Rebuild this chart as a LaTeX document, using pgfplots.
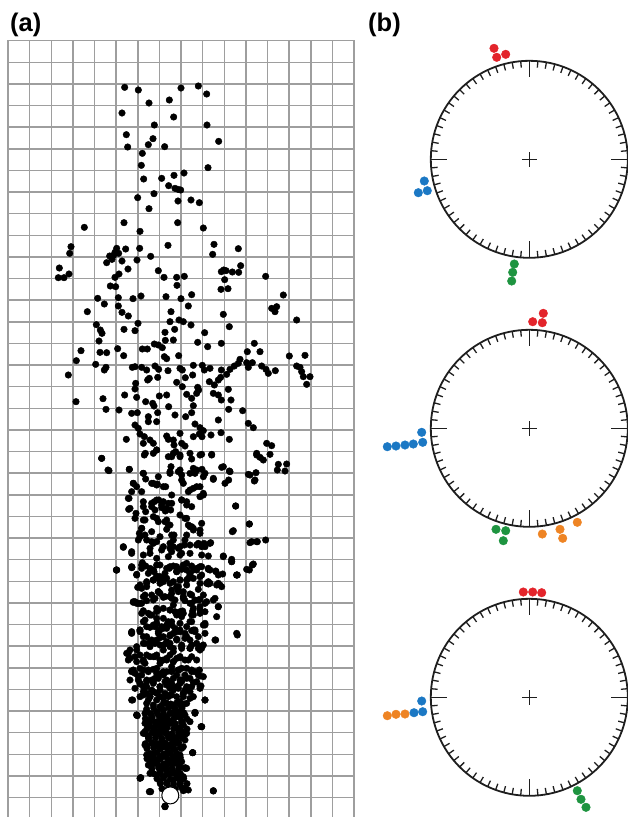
\documentclass[border=0pt]{standalone}
\usepackage{pgfplots}
\pgfplotsset{compat=1.18}
\usepackage{fontspec}
\setmainfont{Liberation Sans}
\definecolor{cred}{HTML}{E3242B}
\definecolor{cblue}{HTML}{1B78C4}
\definecolor{cgreen}{HTML}{1E9440}
\definecolor{corange}{HTML}{EE8424}
\definecolor{ringc}{HTML}{1E1E1E}
\pgfkeys{
  /pgfplots/table/z1/.style={/pgfplots/table/x expr={(\thisrow{zx}/3-8)/21.625}, /pgfplots/table/y expr={(\thisrow{zy}/3-40.7)/21.625}},
  /pgfplots/table/z2/.style={/pgfplots/table/x expr={(\thisrow{zx}/3-8)/21.625}, /pgfplots/table/y expr={(280+\thisrow{zy}/3-40.7)/21.625}},
  /pgfplots/table/z3/.style={/pgfplots/table/x expr={(\thisrow{zx}/3-8)/21.625}, /pgfplots/table/y expr={(540+\thisrow{zy}/3-40.7)/21.625}},
  /pgfplots/table/z8/.style={/pgfplots/table/x expr={(110+\thisrow{zx}/3-8)/21.625}, /pgfplots/table/y expr={(560+\thisrow{zy}/3-40.7)/21.625}},
  /pgfplots/table/z9/.style={/pgfplots/table/x expr={(110+\thisrow{zx}/3-8)/21.625}, /pgfplots/table/y expr={(680+\thisrow{zy}/3-40.7)/21.625}},
  /pgfplots/table/z10/.style={/pgfplots/table/x expr={(120+\thisrow{zx}/3-8)/21.625}, /pgfplots/table/y expr={(590+\thisrow{zy}/3-40.7)/21.625}},
  /pgfplots/table/z11/.style={/pgfplots/table/x expr={(120+\thisrow{zx}/3-8)/21.625}, /pgfplots/table/y expr={(700+\thisrow{zy}/3-40.7)/21.625}},
  /pgfplots/table/z12/.style={/pgfplots/table/x expr={(90+\thisrow{zx}/3-8)/21.625}, /pgfplots/table/y expr={(440+\thisrow{zy}/3-40.7)/21.625}},
}
\pgfplotsset{
  dots/.style={only marks, mark=*, mark size=3.3pt, mark options={draw=black, fill=black}},
  cdot/.style={only marks, mark=*, mark size=4.3pt, mark options={draw=#1, fill=#1}},
}
\begin{document}
\begin{tikzpicture}
\useasboundingbox (0,0) rectangle (627pt,-817pt);
\node[anchor=base west, inner sep=0pt, font=\fontsize{25.5}{26}\selectfont\bfseries] at (10pt,-31.6pt) {(a)};
\node[anchor=base west, inner sep=0pt, font=\fontsize{25.5}{26}\selectfont\bfseries] at (368pt,-31.6pt) {(b)};
\foreach \cy in {159.3,428.3,697.3}{
  \begin{scope}[shift={(529.3pt,-\cy pt)}]
    \draw[ringc, line width=1.8pt] (0,0) circle[radius=98.5pt];
    \foreach \ang in {0,5,...,355}{\draw[ringc, line width=1.3pt] (\ang:98.5pt) -- (\ang:92pt);}
    \foreach \ang in {0,90,180,270}{\draw[ringc, line width=1.3pt] (\ang:98.5pt) -- (\ang:82pt);}
    \draw[ringc, line width=1.2pt] (-7.5pt,0) -- (7.5pt,0) (0,-7.5pt) -- (0,7.5pt);
  \end{scope}
}
\begin{axis}[at={(8pt,-40.7pt)}, anchor=north west, scale only axis, width=346pt, height=778.5pt,
  xmin=0, xmax=16, ymin=0, ymax=36, y dir=reverse,
  xtick={0,...,16}, ytick={0,...,36}, xticklabels={}, yticklabels={},
  major tick length=0pt, grid=major,
  major grid style={black!38, line width=1.5pt},
  axis line style={black!38, line width=1.5pt}]
\addplot[dots] table[z1] {
zx zy
374 262
415 270
543 264
595 258
620 282
447 309
508 300
366 339
521 351
463 375
621 375
379 404
459 416
445 434
383 441
494 440
656 424
427 460
424 496
624 503
431 537
485 535
522 526
552 519
506 557
525 565
542 570
534 568
462 581
413 593
534 603
573 600
598 608
447 626
372 668
533 668
253 682
610 684
420 694
642 733
504 736
213 740
350 745
377 747
419 745
715 746
209 760
638 763
345 757
356 760
329 768
341 766
452 769
366 783
411 780
336 778
320 788
722 797
384 807
475 812
178 804
664 815
671 810
678 812
697 816
716 817
207 822
175 833
192 833
357 822
492 832
530 832
553 829
797 829
674 839
345 832
531 856
331 858
347 860
663 868
684 866
575 884
850 885
293 895
355 893
399 896
423 888
498 890
543 896
};
\addplot[dots] table[z2] {
zx zy
262 95
313 72
355 78
366 97
385 108
513 95
565 78
670 103
815 85
825 95
830 80
289 134
301 150
306 160
372 148
405 152
414 130
495 157
510 125
524 148
537 120
550 125
573 135
688 140
890 120
297 183
496 181
520 180
614 158
664 190
593 187
623 200
763 190
243 212
300 217
320 218
353 206
371 227
427 207
442 207
463 192
475 195
487 203
493 230
500 236
536 227
742 215
780 215
868 228
915 226
229 242
287 253
313 270
318 262
397 262
405 260
425 262
440 270
465 258
476 268
504 272
540 265
547 270
556 293
580 256
578 285
607 256
613 270
630 265
664 270
690 268
703 258
720 238
715 250
740 248
745 262
757 248
785 258
798 268
805 280
826 272
890 258
900 262
905 275
910 290
930 290
920 313
205 285
407 310
405 327
448 295
473 292
443 300
530 307
547 320
593 322
596 330
628 305
643 315
655 300
662 292
680 283
640 340
374 345
410 352
437 365
458 370
462 378
478 348
500 345
560 343
575 355
590 340
580 377
655 345
664 360
685 328
693 360
309 356
228 365
318 388
357 390
395 400
412 398
445 410
473 398
506 380
525 405
557 410
575 398
686 388
728 392
405 435
415 445
420 462
445 425
470 425
585 432
600 443
610 452
655 420
745 430
760 443
379 478
433 470
450 480
460 490
500 468
505 478
520 480
522 495
540 460
545 490
555 498
580 470
598 462
606 470
633 465
663 458
688 478
470 510
430 490
436 520
505 530
520 520
527 515
540 530
575 537
605 523
635 523
800 490
815 497
770 520
780 532
790 540
810 523
305 535
324 570
388 568
430 580
437 597
475 590
510 575
513 560
540 570
545 585
580 565
585 580
606 568
610 590
640 598
665 562
688 573
686 600
745 583
768 578
763 603
835 553
832 570
860 552
855 573
400 610
410 620
460 610
472 612
497 620
550 610
565 635
580 625
600 620
610 640
387 655
395 635
430 665
463 665
476 660
490 665
505 670
515 670
545 660
560 665
600 650
707 678
386 688
408 700
437 695
455 680
465 690
485 683
496 693
512 690
430 720
470 715
495 725
505 735
555 715
565 735
575 740
580 745
605 730
748 732
697 755
425 745
418 760
435 765
455 755
500 748
522 765
560 765
600 760
370 800
395 820
415 780
455 785
470 785
490 800
510 790
520 800
535 805
553 795
590 795
605 800
612 790
632 788
750 788
772 785
797 780
450 820
515 815
545 820
625 828
670 828
695 838
};
\addplot[dots] table[z3] {
zx zy
349 90
396 82
410 103
427 68
437 78
452 88
462 95
470 108
480 120
493 113
508 85
520 78
530 95
545 88
560 90
575 78
590 90
605 80
625 88
647 93
668 102
695 65
712 105
748 90
757 75
460 120
490 125
540 120
565 115
600 110
625 125
655 130
413 142
425 145
440 140
475 155
515 150
530 140
550 155
570 162
595 148
625 132
400 187
410 190
425 190
440 182
465 175
490 172
515 175
525 180
555 182
575 190
600 178
620 185
640 180
655 200
580 205
430 212
445 220
470 205
510 210
540 215
548 213
578 213
615 215
650 230
470 235
435 240
395 278
420 270
450 262
465 260
475 275
490 265
505 245
515 255
525 265
540 270
575 245
615 255
575 272
712 285
647 300
430 290
455 300
480 293
510 288
530 297
555 295
585 275
385 340
388 355
410 330
420 345
430 365
450 350
470 345
490 330
510 320
520 335
545 325
575 315
595 325
605 318
465 310
500 305
540 353
500 360
480 370
520 365
435 370
395 393
405 400
430 390
460 388
485 400
500 395
515 390
530 405
545 385
575 390
598 390
600 408
420 430
440 425
455 420
475 415
500 420
515 430
545 425
570 415
603 438
430 455
440 460
460 455
480 440
495 460
505 470
520 450
535 445
550 460
570 455
398 480
615 480
445 480
470 480
500 490
520 495
540 485
412 527
440 515
440 540
470 515
490 510
495 530
520 520
540 515
555 525
585 517
603 560
450 545
470 545
495 550
510 545
525 555
545 545
435 575
445 590
465 570
480 580
495 575
505 590
520 600
535 590
545 575
555 600
440 620
470 610
490 620
510 615
525 630
545 625
578 638
445 655
455 665
470 660
485 650
500 670
515 660
530 655
545 665
555 685
480 690
500 690
520 695
530 700
422 713
540 720
555 745
452 755
640 752
495 800
};
\addplot[dots] table[z8] {
zx zy
20 30
65 20
80 45
95 25
115 40
130 30
150 15
165 40
180 20
200 35
220 15
240 40
260 25
275 45
300 30
325 45
380 45
90 75
110 65
130 60
150 70
170 55
190 65
210 60
230 75
250 55
270 70
300 70
330 75
70 125
85 130
100 110
125 105
145 95
165 110
185 100
205 90
220 115
245 105
265 120
285 130
315 115
325 140
95 160
120 165
140 155
160 175
180 150
200 165
220 160
250 165
270 150
285 190
240 185
65 215
90 210
110 200
130 195
150 210
170 205
190 220
210 215
230 230
255 210
315 240
380 220
60 270
80 260
100 250
120 245
140 240
160 255
180 250
200 240
215 260
240 265
260 250
275 265
55 300
75 290
100 300
130 290
150 300
170 295
190 305
210 290
235 300
260 300
65 335
95 345
115 330
140 340
160 345
185 335
205 330
225 345
245 335
265 345
85 360
130 365
175 365
215 360
};
\addplot[dots] table[z9] {
zx zy
65 60
90 12
110 20
130 10
150 30
170 15
190 25
210 10
230 20
250 8
270 18
285 60
100 45
120 50
140 40
160 55
180 45
200 50
220 40
240 55
110 70
130 75
150 80
170 70
190 80
210 75
230 70
80 105
105 100
125 110
145 105
160 115
180 100
200 110
220 105
255 98
275 140
105 130
120 140
140 135
160 140
180 130
200 145
220 135
240 125
100 160
115 170
135 160
155 175
170 160
190 170
210 165
230 160
105 195
125 190
145 200
160 190
180 200
200 190
220 200
110 225
130 220
150 230
170 220
190 230
210 225
248 218
115 255
135 250
150 260
170 255
190 250
210 260
230 265
120 280
140 285
160 290
180 280
200 285
220 290
92 293
150 305
170 310
190 300
210 315
225 328
120 335
310 333
165 380
};
\addplot[dots] table[z10] {
zx zy
45 35
60 40
75 15
100 30
120 10
150 20
160 45
175 5
190 20
210 40
225 30
240 50
250 15
95 75
115 60
130 55
165 65
185 80
215 75
240 70
70 95
110 100
125 110
140 105
155 95
180 100
200 110
220 120
250 105
35 130
60 125
80 140
115 130
130 140
150 135
170 125
195 130
210 150
235 140
255 130
75 160
90 170
120 165
140 160
160 175
185 165
210 175
240 180
250 165
20 190
30 205
50 215
80 195
105 200
130 210
150 195
170 205
195 210
215 200
40 240
60 235
85 245
110 235
130 245
155 230
175 240
200 235
225 245
30 270
55 260
80 270
105 265
135 275
160 265
180 270
200 265
230 275
250 260
45 295
70 290
95 300
120 290
150 295
170 290
195 300
215 290
240 295
60 320
90 320
120 320
155 315
190 320
220 320
};
\addplot[dots] table[z11] {
zx zy
130 10
152 12
171 8
192 12
80 27
101 24
126 26
146 23
166 27
186 24
92 41
111 38
131 42
152 39
171 41
191 38
225 40
76 56
96 53
121 57
141 54
161 56
181 53
201 57
86 71
106 68
126 72
146 69
166 71
186 68
81 86
101 83
121 87
141 84
161 86
181 83
201 87
76 101
96 98
116 102
136 99
156 101
176 98
196 102
86 116
106 113
126 117
146 114
166 116
186 113
76 131
96 128
116 132
136 129
156 131
176 128
81 146
101 143
121 147
141 144
161 146
181 143
218 158
91 161
111 158
131 162
151 159
171 161
81 176
101 173
121 177
141 174
161 176
181 173
91 191
111 188
131 192
151 189
171 191
96 206
116 203
136 207
156 204
176 206
196 203
101 221
121 218
141 222
161 219
181 221
111 236
131 233
151 237
171 234
191 236
60 235
121 251
141 248
161 252
181 249
201 251
126 266
146 263
166 267
186 264
190 272
205 270
88 275
50 45
245 80
135 318
};
\addplot[dots] table[z12] {
zx zy
35 55
57 92
118 88
160 100
163 45
190 40
200 30
245 50
270 45
300 40
330 45
365 45
400 80
420 95
500 45
480 105
495 120
130 130
155 155
185 130
200 135
220 140
240 100
265 95
275 120
300 100
320 90
345 100
370 115
405 130
300 150
320 140
340 165
115 175
120 205
160 200
185 190
200 180
215 195
230 205
245 165
275 180
290 195
305 200
437 198
135 235
165 240
190 230
205 245
230 240
240 255
270 225
290 235
300 260
310 270
330 270
430 272
478 252
155 265
150 290
170 300
190 310
210 290
245 285
250 300
270 320
285 300
300 315
325 310
345 320
360 310
485 305
500 305
100 322
125 335
180 325
215 330
240 325
160 345
200 355
235 350
270 345
300 340
335 345
400 350
425 365
470 388
490 372
80 390
125 383
155 375
180 385
200 375
230 385
260 380
290 370
310 390
330 380
355 385
378 395
440 405
150 440
170 430
190 420
210 410
240 430
265 440
290 420
300 405
350 430
380 435
395 440
};
\addplot[only marks, mark=*, mark size=8.5pt, mark options={draw=black, fill=white, line width=1pt}] coordinates {(7.505,34.90)};
\end{axis}
\begin{axis}[at={(370pt,0pt)}, anchor=north west, scale only axis, width=257pt, height=817pt,
  xmin=370, xmax=627, ymin=0, ymax=817, y dir=reverse, axis lines=none, clip=false]
% circle 1
\addplot[cdot=cred] coordinates {(494,48.3) (496.7,57.3) (505.7,54.3)};
\addplot[cdot=cblue] coordinates {(424.3,181) (418.3,192.7) (427.3,190.7)};
\addplot[cdot=cgreen] coordinates {(514.3,264) (512.7,272.3) (511.7,281)};
% circle 2
\addplot[cdot=cred] coordinates {(532.7,321.7) (542.3,322.7) (543.3,313.3)};
\addplot[cdot=cblue] coordinates {(421.7,432.3) (422.7,442.3) (413.3,444) (405,445) (396,446) (387.3,446.7)};
\addplot[cdot=cgreen] coordinates {(496,529.3) (505.7,530.7) (503.3,540.7)};
\addplot[cdot=corange] coordinates {(542.3,534) (560,529.3) (562.7,538.3) (577.3,522.3)};
% circle 3
\addplot[cdot=cred] coordinates {(523.3,592) (532.7,592) (541.7,592.7)};
\addplot[cdot=cblue] coordinates {(421.7,701) (422.7,711.7) (414,712.7)};
\addplot[cdot=corange] coordinates {(405,714) (396,714.3) (387.3,715.7)};
\addplot[cdot=cgreen] coordinates {(577.3,790.7) (581,799.3) (586,807.3)};
\end{axis}
\end{tikzpicture}
\end{document}
